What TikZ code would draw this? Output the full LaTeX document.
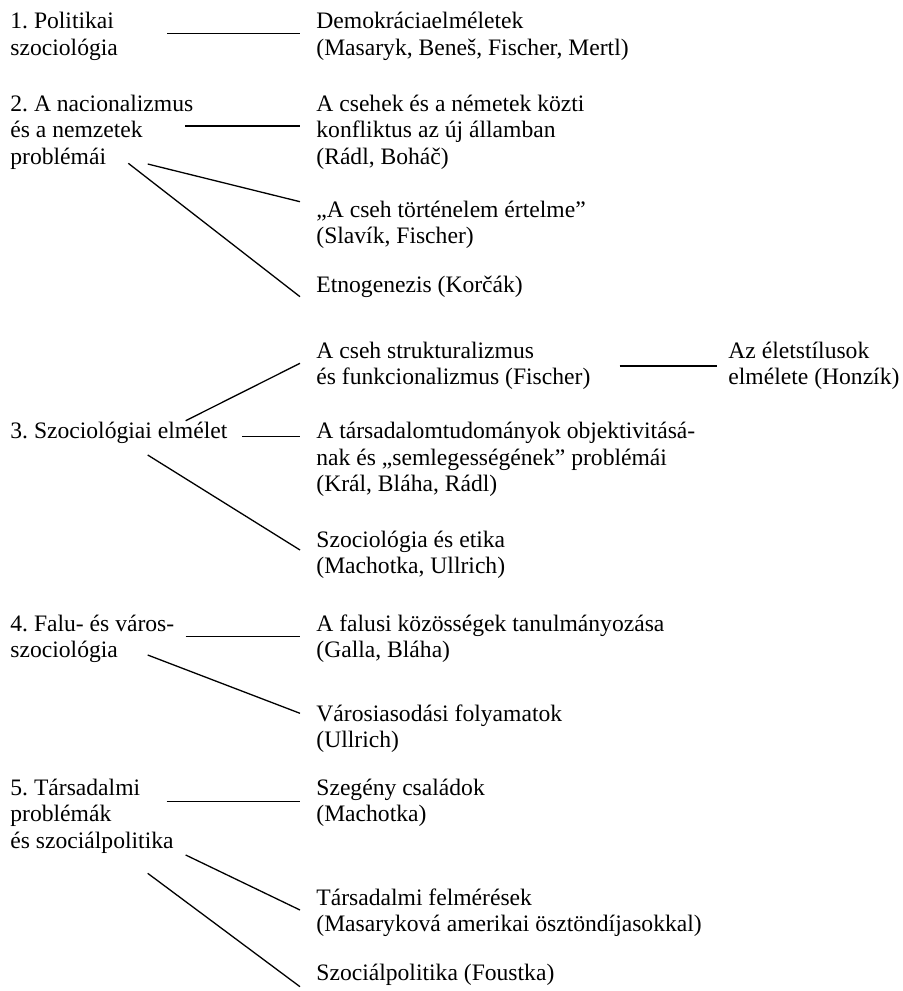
\documentclass[tikz,border=0pt]{standalone}
\usepackage{fontspec}
\setmainfont{Liberation Serif}
\frenchspacing
\tikzset{
  txt/.style={anchor=base west, inner sep=0pt, align=left, font=\fontsize{11.8}{13.35}\selectfont},
  link/.style={line width=0.65pt}
}
\begin{document}
\begin{tikzpicture}[x=0.5pt,y=0.5pt,yscale=-1,xscale=1]
        \useasboundingbox (0,0) rectangle (903,991);

        % Left column (base = last line)
        \node [txt] (pol) at (10,55.2) {1. Politikai\\szociológia};
        \node [txt] (nac) at (10,164.4) {2. A nacionalizmus\\és a nemzetek\\problémái};
        \node [txt] (elm) at (10,438.5) {3. Szociológiai elmélet};
        \node [txt] (fal) at (10,657.7) {4. Falu- és város-\\szociológia};
        \node [txt] (tar) at (10,848.4) {5. Társadalmi\\problémák\\és szociálpolitika};

        % Right column
        \node [txt] (dem) at (316,55.2) {Demokráciaelméletek\\(Masaryk, Beneš, Fischer, Mertl)};
        \node [txt] (kon) at (316,164.4) {A csehek és a németek közti\\konfliktus az új államban\\(Rádl, Boháč)};
        \node [txt] (tor) at (316,243.7) {„A cseh történelem értelme”\\(Slavík, Fischer)};
        \node [txt] (etn) at (316,292) {Etnogenezis (Korčák)};
        \node [txt] (str) at (316,384.7) {A cseh strukturalizmus\\és funkcionalizmus (Fischer)};
        \node [txt] (eti) at (728,384.7) {Az életstílusok\\elmélete (Honzík)};
        \node [txt] (obj) at (316,491.9) {A társadalomtudományok objektivitásá-\\nak és „semlegességének” problémái\\(Král, Bláha, Rádl)};
        \node [txt] (szo) at (316,573.7) {Szociológia és etika\\(Machotka, Ullrich)};
        \node [txt] (kozs) at (316,657.7) {A falusi közösségek tanulmányozása\\(Galla, Bláha)};
        \node [txt] (var) at (316,747.7) {Városiasodási folyamatok\\(Ullrich)};
        \node [txt] (csa) at (316,821.7) {Szegény családok\\(Machotka)};
        \node [txt] (fel) at (316,931.7) {Társadalmi felmérések\\(Masaryková amerikai ösztöndíjasokkal)};
        \node [txt] (fou) at (316,980) {Szociálpolitika (Foustka)};

        % Line ends
        \coordinate (pol-a) at (167,33.5);   \coordinate (dem-a) at (300,33.5);
        \coordinate (nac-a) at (185,126);    \coordinate (kon-a) at (300,126);
        \coordinate (nac-b) at (147.7,164);  \coordinate (tor-a) at (300,201.7);
        \coordinate (nac-c) at (128.3,163.3);\coordinate (etn-a) at (300,296.7);
        \coordinate (elm-a) at (185.7,420.7);\coordinate (str-a) at (300,363.3);
        \coordinate (elm-b) at (242.3,436.7);\coordinate (obj-a) at (300,436.7);
        \coordinate (elm-c) at (147.7,455);  \coordinate (szo-a) at (300,550);
        \coordinate (str-b) at (619.5,366);  \coordinate (eti-a) at (716.7,366);
        \coordinate (fal-a) at (185.7,636.7);\coordinate (kozs-a) at (300,636.7);
        \coordinate (fal-b) at (147.7,655);  \coordinate (var-a) at (300,713.3);
        \coordinate (tar-a) at (166.7,801.7);\coordinate (csa-a) at (300,801.7);
        \coordinate (tar-b) at (185.7,855);  \coordinate (fel-a) at (300,910);
        \coordinate (tar-c) at (147.7,873.3);\coordinate (fou-a) at (300,986.7);

        % Connectors
        \draw [link] (pol-a) -- (dem-a);
        \draw [link] (nac-a) -- (kon-a);
        \draw [link] (nac-b) -- (tor-a);
        \draw [link] (nac-c) -- (etn-a);
        \draw [link] (elm-a) -- (str-a);
        \draw [link] (elm-b) -- (obj-a);
        \draw [link] (elm-c) -- (szo-a);
        \draw [link] (str-b) -- (eti-a);
        \draw [link] (fal-a) -- (kozs-a);
        \draw [link] (fal-b) -- (var-a);
        \draw [link] (tar-a) -- (csa-a);
        \draw [link] (tar-b) -- (fel-a);
        \draw [link] (tar-c) -- (fou-a);

\end{tikzpicture}
\end{document}
